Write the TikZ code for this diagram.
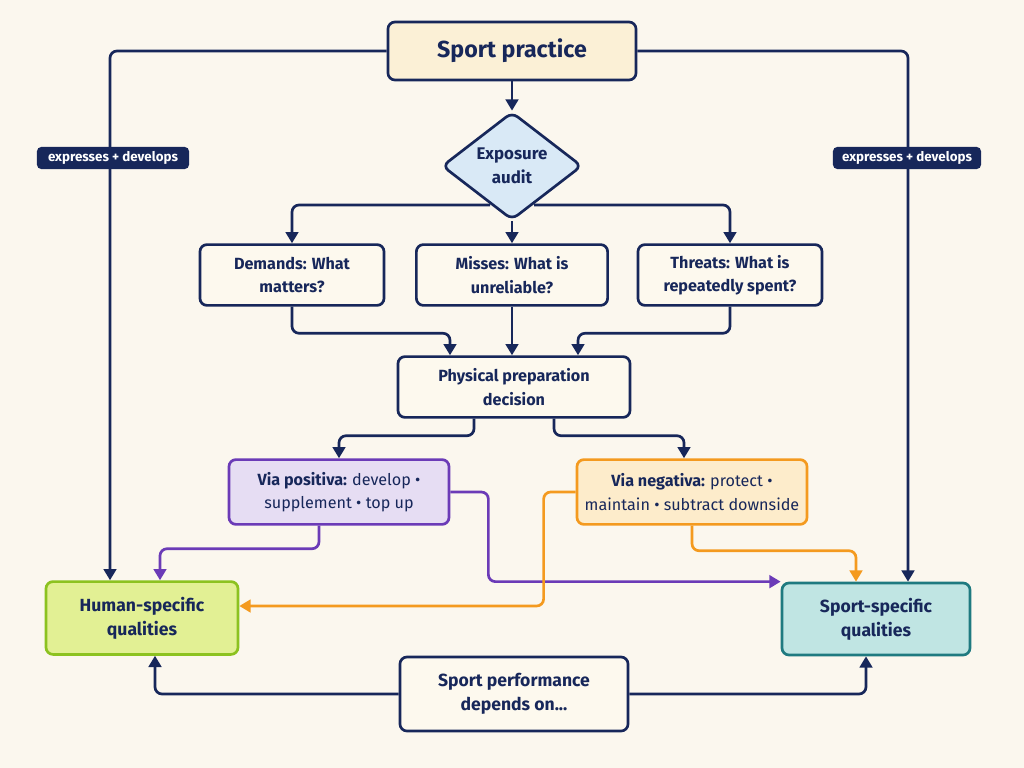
\documentclass[tikz,border=0pt]{standalone}
\usepackage{fontspec}
\setmainfont{Fira Sans}
\usetikzlibrary{arrows.meta,shapes.geometric,calc}

\definecolor{navy}{HTML}{17275A}
\definecolor{paper}{HTML}{FBF7EE}
\definecolor{boxfill}{HTML}{FDF9EE}
\definecolor{topfill}{HTML}{FBF0D6}
\definecolor{auditfill}{HTML}{D9E9F6}
\definecolor{posline}{HTML}{6B3BB7}
\definecolor{posfill}{HTML}{E6DDF3}
\definecolor{negline}{HTML}{F49A1F}
\definecolor{negfill}{HTML}{FDECCB}
\definecolor{humline}{HTML}{8CC220}
\definecolor{humfill}{HTML}{E2F094}
\definecolor{spline}{HTML}{1F7A80}
\definecolor{spfill}{HTML}{C0E5E3}

\begin{document}
\begin{tikzpicture}[x=0.025cm, y=-0.025cm, line width=1.9pt,
	>={Triangle[length=8pt,width=9pt]},
	box/.style={draw=navy, fill=boxfill, rounded corners=5pt, align=center, text=navy,
		inner sep=0pt, font=\bfseries\fontsize{11.5}{16.5}\selectfont},
	link/.style={->, draw=navy, rounded corners=5pt},
	tag/.style={fill=navy, text=white, rounded corners=3pt, inner sep=0pt,
		minimum width=3.8cm, minimum height=0.55cm, font=\bfseries\fontsize{9.5}{11}\selectfont}]

		\fill[paper] (0,0) rectangle (1024,768);
		\useasboundingbox (0,0) rectangle (1024,768);

		% nodes
		\node[box, fill=topfill, minimum width=6.2cm, minimum height=1.45cm,
			font=\bfseries\fontsize{16.5}{20}\selectfont] (sport) at (512,51) {Sport practice};
		\node[box, diamond, fill=auditfill, aspect=1.29, minimum width=3.5cm, minimum height=2.7cm,
			font=\bfseries\fontsize{12}{17}\selectfont] (audit) at (512,166) {Exposure\\audit};
		\node[box, minimum width=4.6cm, minimum height=1.52cm] (demands) at (292,275) {Demands: What\\matters?};
		\node[box, minimum width=4.78cm, minimum height=1.52cm] (misses) at (512,275) {Misses: What is\\unreliable?};
		\node[box, minimum width=4.6cm, minimum height=1.52cm] (threats) at (730,275) {Threats: What is\\repeatedly spent?};
		\node[box, minimum width=5.8cm, minimum height=1.52cm] (decision) at (514,387) {Physical preparation\\decision};
		\node[box, draw=posline, fill=posfill, minimum width=5.5cm, minimum height=1.62cm] (positiva) at (339,492)
			{Via positiva: {\mdseries develop •}\\{\mdseries supplement • top up}};
		\node[box, draw=negline, fill=negfill, minimum width=5.75cm, minimum height=1.62cm] (negativa) at (692,492)
			{Via negativa: {\mdseries protect •}\\{\mdseries maintain • subtract downside}};
		\node[box, draw=humline, fill=humfill, minimum width=4.8cm, minimum height=1.82cm,
			font=\bfseries\fontsize{12.5}{17}\selectfont] (human) at (142,618) {Human-specific\\qualities};
		\node[box, draw=spline, fill=spfill, minimum width=4.7cm, minimum height=1.8cm,
			font=\bfseries\fontsize{12.5}{17}\selectfont] (specific) at (876,619) {Sport-specific\\qualities};
		\node[box, minimum width=5.7cm, minimum height=1.85cm,
			font=\bfseries\fontsize{12.5}{17}\selectfont] (perf) at (514,694) {Sport performance\\depends on...};

		% connectors
		\draw[link] (sport.west) -| ($(human.north)+(-32,0)$);
		\draw[link] (sport.east) -| ($(specific.north)+(32,0)$);
		\draw[link] (sport) -- (audit);
		\draw[link] (audit) -- (misses);
		\draw[link] ($(audit.center)+(-22,39)$) -| (demands);
		\draw[link] ($(audit.center)+(22,39)$) -| (threats);
		\draw[link] (demands) |- ($(decision.north)+(-64,-22)$) -- ($(decision.north)+(-64,0)$);
		\draw[link] (misses) -- (misses.south |- decision.north);
		\draw[link] (threats) |- ($(decision.north)+(64,-22)$) -- ($(decision.north)+(64,0)$);
		\draw[link] ($(decision.south)+(-40,0)$) -- ++(0,17) -| (positiva);
		\draw[link] ($(decision.south)+(40,0)$) -- ++(0,17) -| ($(negativa.north)+(-8,0)$);
		\draw[link, draw=posline] ($(positiva.south)+(-20,0)$) -- ++(0,23) -| ($(human.north)+(18,0)$);
		\draw[link, draw=posline] (positiva.east) -- ++(38,0) |- (specific.north west);
		\draw[link, draw=negline] (negativa.west) -- ++(-32,0) |- ($(human.east)+(0,-12)$);
		\draw[link, draw=negline] (negativa.south) -- ++(0,25) -| ($(specific.north)+(-20,0)$);
		\draw[link] (perf) -| ($(human.south)+(13,0)$);
		\draw[link] (perf) -| ($(specific.south)+(-10,0)$);

		\node[tag] (tagl) at (113,158) {expresses + develops};
		\node[tag, minimum width=3.7cm] (tagr) at (907,158) {expresses + develops};
	\end{tikzpicture}
\end{document}
